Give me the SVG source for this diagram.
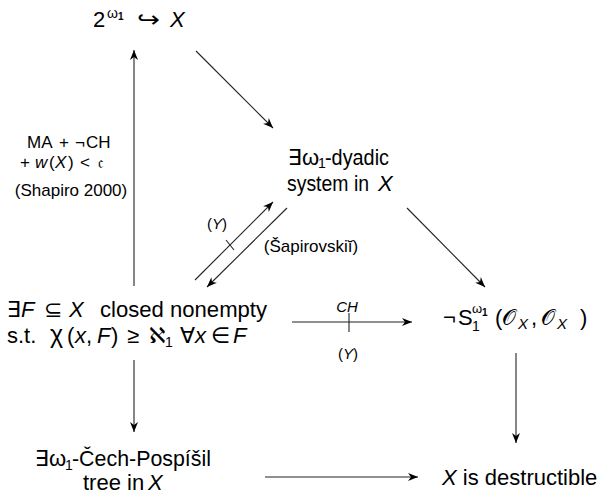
<svg xmlns="http://www.w3.org/2000/svg" width="608" height="494" viewBox="0 0 608 494">
<style>
text{font-family:"Liberation Sans","DejaVu Sans",sans-serif;fill:#000}
.n{font-size:22px}
.s{font-size:17px}
.t{font-size:15px}
.i{font-style:italic}
.c{stroke:#222;stroke-width:1.1;fill:none}
.m{marker-end:url(#a)}
</style>
<defs>
<marker id="a" viewBox="0 0 10 10" refX="10" refY="5" markerWidth="10" markerHeight="10" markerUnits="userSpaceOnUse" orient="auto"><path d="M0,1 L10,5 L0,9 L3,5z" fill="#000"/></marker>
</defs>
<g id="connectors">
<path class="c m" d="M134,286 L134,50"/>
<path class="c m" d="M196,51 L273,128"/>
<path class="c m" d="M195,280 L273,202"/>
<path class="c" d="M226,240 L234,250"/>
<path class="c m" d="M287,208 L207,287"/>
<path class="c m" d="M407,208 L485,287"/>
<path class="c m" d="M292,322 L412,322"/>
<path class="c" d="M349,313 L349,332"/>
<path class="c m" d="M134,360 L134,432"/>
<path class="c m" d="M516,353 L516,443"/>
<path class="c m" d="M265,477 L418,477"/>
</g>
<g id="labels">
<text class="s" y="148"><tspan x="27">MA</tspan><tspan x="59">+</tspan><tspan x="75">¬</tspan><tspan x="86">CH</tspan></text>
<text class="s" y="168"><tspan x="20">+</tspan><tspan x="35" class="i">w</tspan><tspan x="49">(</tspan><tspan x="55" class="i">X</tspan><tspan x="68">)</tspan><tspan x="80">&lt;</tspan><tspan x="98">𝔠</tspan></text>
<text class="s" x="71" y="196" text-anchor="middle">(Shapiro 2000)</text>
<text class="t" x="217" y="229" text-anchor="middle">(<tspan class="i">Y</tspan>)</text>
<text class="s" x="311" y="252" text-anchor="middle" font-size="16.5">(Šapirovskiĭ)</text>
<text class="t i" x="347" y="312" text-anchor="middle">CH</text>
<text class="t" x="348" y="359" text-anchor="middle">(<tspan class="i">Y</tspan>)</text>
</g>
<g id="top">
<text class="n" x="93" y="27">2</text>
<text font-size="14" x="107" y="18">ω</text>
<text font-size="10" font-weight="bold" x="118" y="20">1</text>
<text class="n" x="137" y="27" font-family="DejaVu Sans" textLength="23" lengthAdjust="spacingAndGlyphs">↪</text>
<text class="n i" x="170" y="27">X</text>
</g>
<g id="dyadic">
<text class="n" x="288" y="165">∃</text>
<text class="n" x="302" y="165">ω</text>
<text font-size="14" x="318" y="168">1</text>
<text class="n" x="325" y="165" textLength="64" lengthAdjust="spacingAndGlyphs">-dyadic</text>
<text class="n" x="287" y="191" textLength="82" lengthAdjust="spacingAndGlyphs">system in</text>
<text class="n i" x="378" y="191">X</text>
</g>
<g id="closedF">
<text class="n" y="317"><tspan x="7">∃</tspan><tspan x="21" class="i">F</tspan><tspan x="44">⊆</tspan><tspan x="69" class="i">X</tspan></text>
<text class="n" x="100" y="317" textLength="167" lengthAdjust="spacingAndGlyphs">closed nonempty</text>
<text class="n" y="343"><tspan x="7">s.t.</tspan><tspan x="50" font-size="25">χ</tspan><tspan x="67">(</tspan><tspan x="75" class="i">x</tspan><tspan x="86">,</tspan><tspan x="97" class="i">F</tspan><tspan x="111">)</tspan><tspan x="127">≥</tspan><tspan x="149">ℵ</tspan></text>
<text font-size="14" x="165" y="347">1</text>
<text class="n" y="343"><tspan x="180">∀</tspan><tspan x="195" class="i">x</tspan><tspan x="211">∈</tspan><tspan x="233" class="i">F</tspan></text>
</g>
<g id="notS">
<text class="n" y="325"><tspan x="443">¬</tspan><tspan x="458">S</tspan></text>
<text font-size="14" x="472" y="331">1</text>
<text font-size="13" x="472" y="313">ω</text>
<text font-size="10" font-weight="bold" x="482" y="316">1</text>
<text class="n" y="325"><tspan x="495">(</tspan><tspan x="502">𝒪</tspan></text>
<text font-size="15" class="i" x="518" y="329">X</text>
<text class="n" y="325"><tspan x="531">,</tspan><tspan x="541">𝒪</tspan></text>
<text font-size="15" class="i" x="557" y="329">X</text>
<text class="n" x="580" y="325">)</text>
</g>
<g id="cech">
<text class="n" x="35" y="466">∃</text>
<text class="n" x="49" y="466">ω</text>
<text font-size="14" x="65" y="470">1</text>
<text class="n" x="72" y="466" textLength="139" lengthAdjust="spacingAndGlyphs">-Čech-Pospíšil</text>
<text class="n" x="83" y="490">tree in</text>
<text class="n i" x="148" y="490">X</text>
</g>
<g id="destructible">
<text class="n" x="442" y="485"><tspan class="i">X</tspan> is destructible</text>
</g>
</svg>
